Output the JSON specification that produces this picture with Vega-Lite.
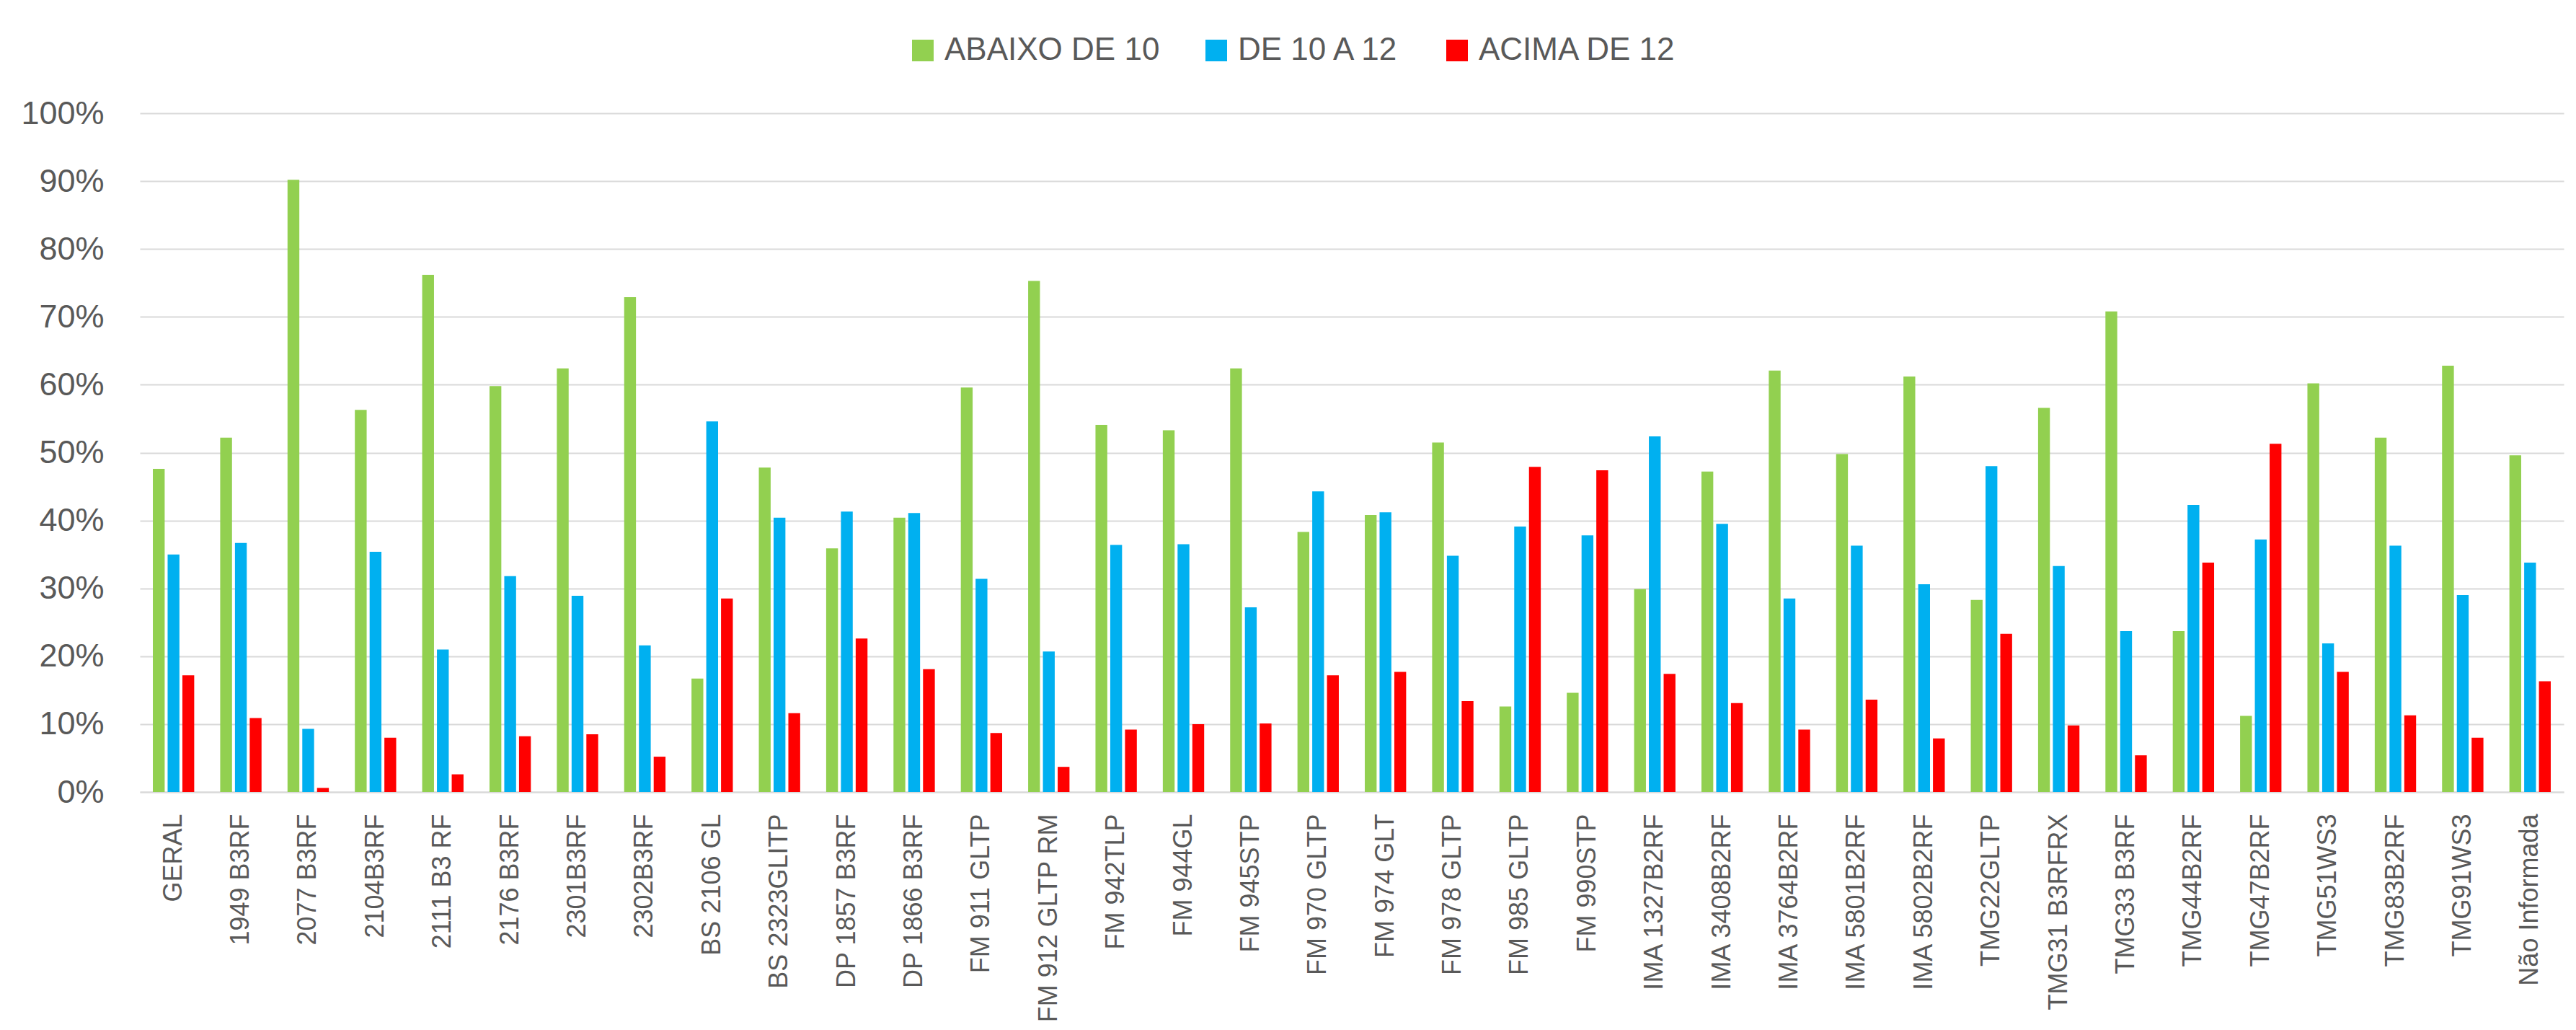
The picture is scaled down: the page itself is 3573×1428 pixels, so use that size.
{
  "$schema": "https://vega.github.io/schema/vega-lite/v6.json",
  "width": 3362,
  "height": 941,
  "autosize": {"type": "none"},
  "padding": {"left": 194, "top": 157, "right": 17, "bottom": 330},
  "background": "white",
  "config": {"view": {"stroke": null}, "font": "Liberation Sans"},
  "datasets": {
    "raw": [
      {"cat": "GERAL", "a": 0.476, "b": 0.350, "c": 0.172},
      {"cat": "1949 B3RF", "a": 0.522, "b": 0.367, "c": 0.109},
      {"cat": "2077 B3RF", "a": 0.902, "b": 0.093, "c": 0.006},
      {"cat": "2104B3RF", "a": 0.563, "b": 0.354, "c": 0.080},
      {"cat": "2111 B3 RF", "a": 0.762, "b": 0.210, "c": 0.026},
      {"cat": "2176 B3RF", "a": 0.598, "b": 0.318, "c": 0.082},
      {"cat": "2301B3RF", "a": 0.624, "b": 0.289, "c": 0.085},
      {"cat": "2302B3RF", "a": 0.729, "b": 0.216, "c": 0.052},
      {"cat": "BS 2106 GL", "a": 0.167, "b": 0.546, "c": 0.285},
      {"cat": "BS 2323GLITP", "a": 0.478, "b": 0.404, "c": 0.116},
      {"cat": "DP 1857 B3RF", "a": 0.359, "b": 0.413, "c": 0.226},
      {"cat": "DP 1866 B3RF", "a": 0.404, "b": 0.411, "c": 0.181},
      {"cat": "FM 911 GLTP", "a": 0.596, "b": 0.314, "c": 0.087},
      {"cat": "FM 912 GLTP RM", "a": 0.753, "b": 0.207, "c": 0.037},
      {"cat": "FM 942TLP", "a": 0.541, "b": 0.364, "c": 0.092},
      {"cat": "FM 944GL", "a": 0.533, "b": 0.365, "c": 0.100},
      {"cat": "FM 945STP", "a": 0.624, "b": 0.272, "c": 0.101},
      {"cat": "FM 970 GLTP", "a": 0.383, "b": 0.443, "c": 0.172},
      {"cat": "FM 974 GLT", "a": 0.408, "b": 0.412, "c": 0.177},
      {"cat": "FM 978 GLTP", "a": 0.515, "b": 0.348, "c": 0.134},
      {"cat": "FM 985 GLTP", "a": 0.126, "b": 0.391, "c": 0.479},
      {"cat": "FM 990STP", "a": 0.146, "b": 0.378, "c": 0.474},
      {"cat": "IMA 1327B2RF", "a": 0.299, "b": 0.524, "c": 0.174},
      {"cat": "IMA 3408B2RF", "a": 0.472, "b": 0.395, "c": 0.131},
      {"cat": "IMA 3764B2RF", "a": 0.621, "b": 0.285, "c": 0.092},
      {"cat": "IMA 5801B2RF", "a": 0.498, "b": 0.363, "c": 0.136},
      {"cat": "IMA 5802B2RF", "a": 0.612, "b": 0.306, "c": 0.079},
      {"cat": "TMG22GLTP", "a": 0.283, "b": 0.480, "c": 0.233},
      {"cat": "TMG31 B3RFRX", "a": 0.566, "b": 0.333, "c": 0.098},
      {"cat": "TMG33 B3RF", "a": 0.708, "b": 0.237, "c": 0.054},
      {"cat": "TMG44B2RF", "a": 0.237, "b": 0.423, "c": 0.338},
      {"cat": "TMG47B2RF", "a": 0.112, "b": 0.372, "c": 0.513},
      {"cat": "TMG51WS3", "a": 0.602, "b": 0.219, "c": 0.177},
      {"cat": "TMG83B2RF", "a": 0.522, "b": 0.363, "c": 0.113},
      {"cat": "TMG91WS3", "a": 0.628, "b": 0.290, "c": 0.080},
      {"cat": "Não Informada", "a": 0.496, "b": 0.338, "c": 0.163}
    ]
  },
  "data": {"name": "raw"},
  "transform": [
    {"fold": ["a", "b", "c"], "as": ["k", "v"]},
    {"lookup": "k", "from": {"data": {"values": [
      {"k": "a", "serie": "ABAIXO DE 10"},
      {"k": "b", "serie": "DE 10 A 12"},
      {"k": "c", "serie": "ACIMA DE 12"}
    ]}, "key": "k", "fields": ["serie"]}}
  ],
  "mark": {"type": "bar"},
  "encoding": {
    "x": {
      "field": "cat", "type": "nominal", "sort": null,
      "scale": {"paddingInner": 0, "paddingOuter": 0},
      "axis": {"title": null, "labelAngle": -90, "labelFontSize": 36, "labelColor": "#595959", "labelPadding": 30, "labelLimit": 600, "ticks": false, "domainColor": "#D9D9D9", "domainWidth": 2}
    },
    "xOffset": {
      "field": "serie", "type": "nominal", "sort": ["ABAIXO DE 10", "DE 10 A 12", "ACIMA DE 12"],
      "scale": {"paddingInner": 0.2, "paddingOuter": 0.88}
    },
    "y": {
      "field": "v", "type": "quantitative",
      "scale": {"domain": [0, 1]},
      "axis": {"title": null, "format": ".0%", "values": [0, 0.1, 0.2, 0.3, 0.4, 0.5, 0.6, 0.7, 0.8, 0.9, 1], "labelFontSize": 45, "labelColor": "#595959", "labelPadding": 50, "ticks": false, "domain": false, "gridColor": "#D9D9D9", "gridWidth": 2}
    },
    "color": {
      "field": "serie", "type": "nominal",
      "scale": {"domain": ["ABAIXO DE 10", "DE 10 A 12", "ACIMA DE 12"], "range": ["#92D050", "#00B0F0", "#FF0000"]},
      "legend": {"title": null, "orient": "none", "legendX": 1064, "legendY": -109, "direction": "horizontal", "symbolType": "square", "symbolSize": 900, "symbolStrokeWidth": 0, "labelFontSize": 44, "labelColor": "#595959", "labelOffset": 8, "labelLimit": 1000, "columnPadding": 56}
    }
  }
}
